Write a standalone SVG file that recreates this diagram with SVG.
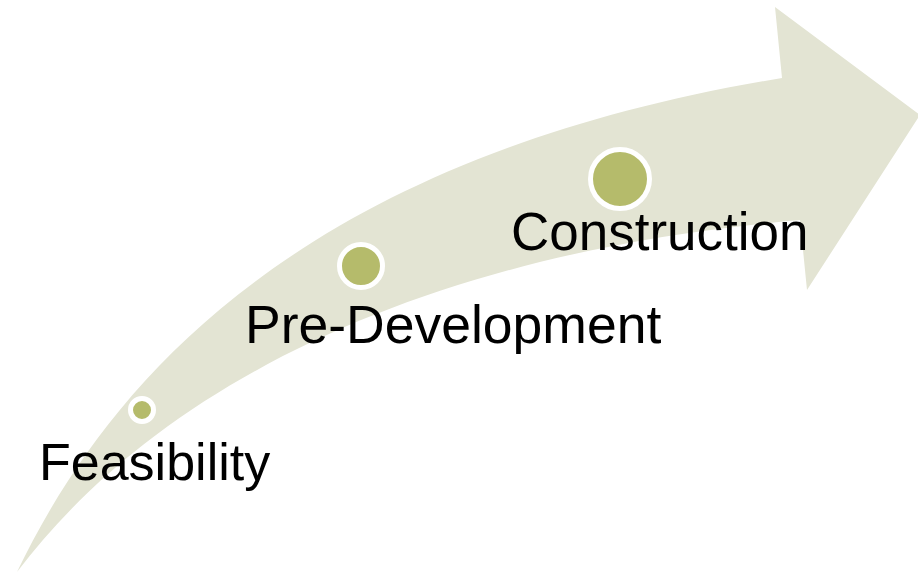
<svg xmlns="http://www.w3.org/2000/svg" width="918" height="573" viewBox="0 0 918 573">
  <style>
    .band { fill: #e3e4d3; }
    .dot { fill: #b5bb6b; stroke: #ffffff; stroke-width: 5; }
    .label { font-family: "Liberation Sans", Arial, sans-serif; font-size: 52px; fill: #000000; }
  </style>
  <rect width="918" height="573" fill="#ffffff"/>
  <g id="arrow">
    <path class="band" d="M17,572 C100,400 280,160 782,78 L775,7 L920,115 L807,290 L800,220 C450,250 170,370 17,572 Z"/>
  </g>
  <g id="feasibility">
    <circle class="dot" cx="142" cy="410" r="11.5"/>
    <text class="label" x="39" y="480">Feasibility</text>
  </g>
  <g id="pre-development">
    <circle class="dot" cx="361" cy="266" r="21.5"/>
    <text class="label" x="245" y="343" style="font-size:53.5px">Pre-Development</text>
  </g>
  <g id="construction">
    <circle class="dot" cx="620" cy="179" r="29.5"/>
    <text class="label" x="511" y="250" style="font-size:53px">Construction</text>
  </g>
</svg>
